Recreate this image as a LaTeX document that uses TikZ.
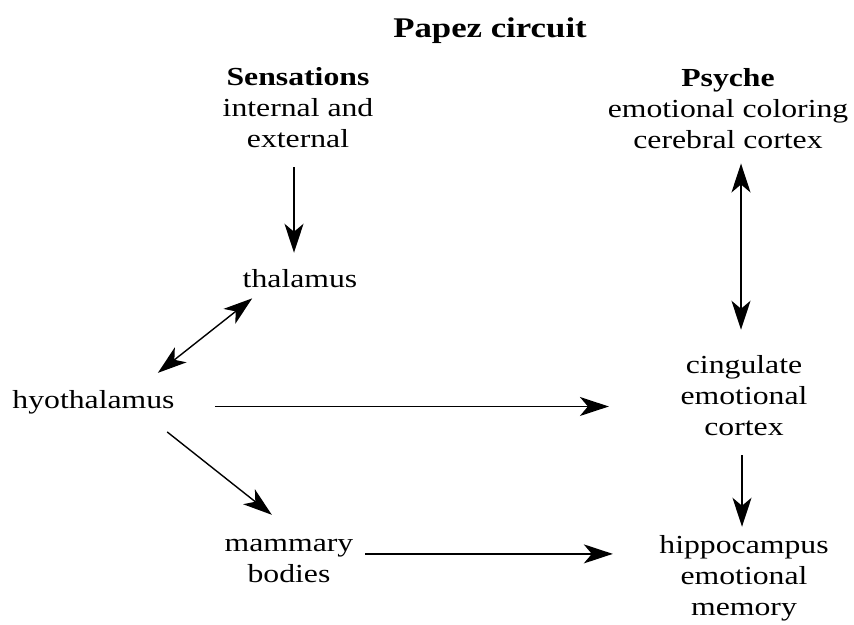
\documentclass[tikz,border=0pt]{standalone}
\usepackage{fontspec}
\setmainfont{Liberation Serif}[FakeStretch=1.22]
\usepackage{tikz}
\usetikzlibrary{arrows.meta}

\begin{document}
\begin{tikzpicture}[x=1pt,y=-1pt,
  lbl/.style={inner sep=0pt, align=center, anchor=base, font=\fontsize{26}{31}\selectfont},
  arr/.style={line width=1.4pt, -{Stealth[length=29pt,width=19pt,inset=8pt]}},
  dbl/.style={line width=1.4pt, {Stealth[length=29pt,width=19pt,inset=8pt]}-{Stealth[length=29pt,width=19pt,inset=8pt]}}]
\useasboundingbox (0,0) rectangle (854,624);
% base anchor = baseline of the last line
\node[lbl, font=\fontsize{28.5}{34}\selectfont\bfseries] (title) at (490,37) {Papez circuit};
\node[lbl] (sens) at (298,147) {\textbf{Sensations}\\internal and\\external};
\node[lbl] (psy) at (728,148) {\textbf{Psyche}\\emotional coloring\\cerebral cortex};
\node[lbl] (thal) at (300,287) {thalamus};
\node[lbl] (hyo) at (93.5,408) {hyothalamus};
\node[lbl] (cing) at (744,435) {cingulate\\emotional\\cortex};
\node[lbl] (mam) at (289,582) {mammary\\bodies};
\node[lbl] (hip) at (744,615) {hippocampus\\emotional\\memory};
\draw[arr, line width=1.8pt, shorten <=20pt, shorten >=16pt] ([xshift=-4pt]sens.south) -- ([xshift=-6pt]thal.north);
\draw[dbl, shorten <=17.6pt, shorten >=27.3pt] ([xshift=-34pt]thal.south) -- ([xshift=43pt]hyo.north);
\draw[arr, shorten <=40pt, shorten >=71.5pt] ([yshift=-4.7pt]hyo.east) -- ([yshift=-4.7pt]hyo.east -| cing.west);
\draw[arr, shorten <=29.2pt, shorten >=38.3pt] ([xshift=50.8pt]hyo.south) -- ([xshift=12.8pt]mam.north);
\draw[arr, line width=1.6pt, shorten <=11.7pt, shorten >=46.4pt] ([yshift=6.6pt]mam.east) -- ([yshift=6.6pt]mam.east -| hip.west);
\draw[dbl, line width=2pt, shorten <=15pt, shorten >=25pt] ([xshift=-3pt]cing.north |- psy.south) -- ([xshift=-3pt]cing.north);
\draw[arr, line width=2pt, shorten <=20pt, shorten >=8pt] ([xshift=-2pt]cing.south) -- ([xshift=-2pt]hip.north);
\end{tikzpicture}
\end{document}
